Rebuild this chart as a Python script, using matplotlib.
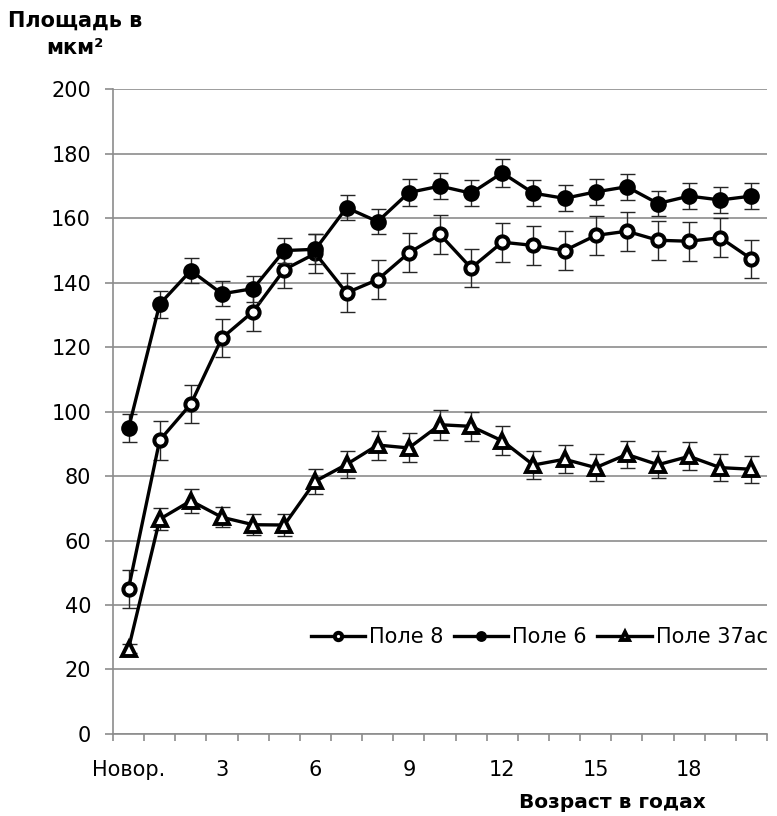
"""Площадь полей коры по возрастам"""

import matplotlib.pyplot as plt

plt.rcParams['font.family'] = ['DejaVu Sans']

# Возраст: новорождённые и годы 1..20
ages = ["Новор."] + [str(i) for i in range(1, 21)]
shown_ages = ["Новор.", "3", "6", "9", "12", "15", "18"]

# Поле 8 (светлые кружки)
pole8 = [45.1, 91.1, 102.3, 122.8, 131.0, 144.0, 149.0, 136.8, 140.9, 149.2, 154.9,
         144.5, 152.5, 151.5, 149.9, 154.6, 155.9, 153.1, 152.8, 153.9, 147.3]
err8 = [5.9, 6.0, 5.9, 5.9, 6.0, 5.8, 6.0, 6.0, 6.0, 6.0, 6.0,
        6.0, 6.0, 6.0, 6.0, 6.0, 6.0, 6.0, 6.0, 6.0, 6.0]

# Поле 6 (тёмные кружки)
pole6 = [94.8, 133.3, 143.7, 136.5, 138.1, 149.9, 150.3, 163.2, 158.9, 167.9, 169.9,
         167.7, 174.0, 167.7, 166.1, 168.1, 169.7, 164.5, 166.8, 165.6, 166.8]
err6 = [4.3, 4.2, 4.0, 3.9, 4.0, 4.0, 4.6, 3.9, 4.0, 4.2, 4.1,
        4.0, 4.3, 4.0, 4.0, 4.0, 4.1, 4.0, 4.1, 4.0, 4.0]

# Поле 37ас (треугольники)
pole37 = [26.5, 66.6, 72.3, 67.2, 64.9, 64.8, 78.4, 83.6, 89.6, 88.7, 95.9,
          95.4, 90.9, 83.4, 85.2, 82.6, 86.7, 83.5, 86.1, 82.6, 82.1]
err37 = [1.5, 3.4, 3.7, 3.1, 3.2, 3.5, 3.9, 4.1, 4.5, 4.5, 4.6,
         4.5, 4.5, 4.2, 4.3, 4.2, 4.3, 4.2, 4.3, 4.3, 4.2]

grid_color = '#8c8c8c'
x = list(range(len(ages)))

fig = plt.figure(figsize=(7.77, 8.16), dpi=100)
ax = fig.add_axes([0.1454, 0.1005, 0.8417, 0.7904])

series = [
    ("Поле 8", pole8, err8, dict(marker='o', ms=8.8, mew=2.9, mfc='white')),
    ("Поле 6", pole6, err6, dict(marker='o', ms=10.5, mew=1.5, mfc='black')),
    ("Поле 37ас", pole37, err37, dict(marker='^', ms=9.5, mew=2.8, mfc='white')),
]

for z, (name, vals, err, style) in enumerate(series):
    # усы погрешностей под маркерами
    ax.errorbar(x, vals, yerr=err, fmt='none', ecolor='#262626', elinewidth=1,
                capsize=5.4, capthick=1, zorder=2 + z * 2)
    ax.plot(x, vals, color='black', lw=2.4, mec='black', label=name,
            zorder=3 + z * 2, **style)

ax.set_xlim(-0.5, len(ages) - 0.5)
ax.set_ylim(0, 200)
ax.set_yticks(range(0, 201, 20))

ax.set_xticks([ages.index(a) for a in shown_ages])
ax.set_xticklabels(shown_ages)
ax.set_xticks([i - 0.5 for i in range(len(ages) + 1)], minor=True)

ax.tick_params(axis='x', which='major', length=0, pad=19, labelsize=15)
ax.tick_params(axis='x', which='minor', length=5, width=1.2, color=grid_color)
ax.tick_params(axis='y', length=5.8, width=1.2, color=grid_color, pad=10, labelsize=15)

ax.yaxis.grid(True, color=grid_color, linewidth=1.2)
ax.set_axisbelow(True)
for side in ['top', 'right']:
    ax.spines[side].set_visible(False)
for side in ['left', 'bottom']:
    ax.spines[side].set_color(grid_color)
    ax.spines[side].set_linewidth(1.2)

ax.legend(loc='center', bbox_to_anchor=(0.652, 0.150), ncol=3, frameon=False,
          fontsize=15, handlelength=2.6, handletextpad=0.2, columnspacing=0.5,
          markerscale=0.6)

fig.text(75 / 777, 1 - 34 / 816, "Площадь в\nмкм²", ha='center', va='center',
         fontsize=15, fontweight='bold', linespacing=1.45)
fig.text(612 / 777, 1 - 802 / 816, "Возраст в годах", ha='center', va='center',
         fontsize=14.5, fontweight='bold')

fig.savefig("out.png", dpi=100)
plt.close(fig)
